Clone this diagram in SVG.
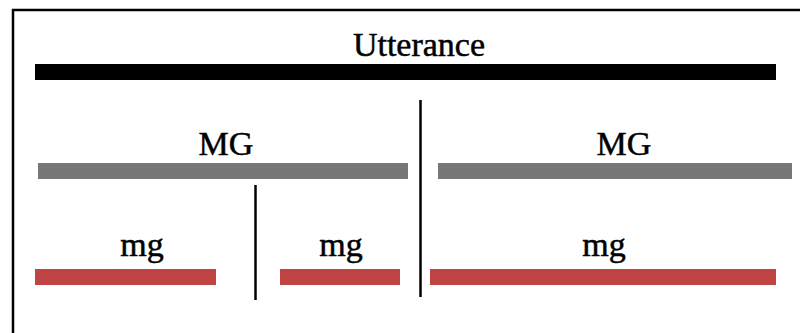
<svg xmlns="http://www.w3.org/2000/svg" width="800" height="333" viewBox="0 0 800 333">
<style>
text{font-family:"Liberation Serif","Times New Roman",serif;font-size:34px;fill:#000;stroke:#000;stroke-width:0.5;text-anchor:middle}
.ut{fill:#000}
.mgbig{fill:#777777}
.mgsmall{fill:#c04444}
.div{stroke:#000;stroke-width:2.5;fill:none}
</style>
<rect x="0" y="0" width="800" height="333" fill="#fff"/>
<rect x="13" y="10" width="800" height="340" fill="none" stroke="#000" stroke-width="2.5"/>
<g id="utterance">
<rect class="ut" x="35" y="64" width="741" height="16"/>
<text x="419" y="56">Utterance</text>
</g>
<g id="MG1">
<rect class="mgbig" x="38" y="163" width="370" height="16"/>
<text x="226" y="155">MG</text>
</g>
<g id="MG2">
<rect class="mgbig" x="438" y="163" width="354" height="16"/>
<text x="624" y="155">MG</text>
</g>
<g id="mg1">
<rect class="mgsmall" x="35" y="269" width="181" height="16"/>
<text x="142" y="256">mg</text>
</g>
<g id="mg2">
<rect class="mgsmall" x="280" y="269" width="120" height="16"/>
<text x="341" y="256">mg</text>
</g>
<g id="mg3">
<rect class="mgsmall" x="430" y="269" width="346" height="16"/>
<text x="604" y="256">mg</text>
</g>
<g id="connectors">
<line class="div" x1="420.5" y1="100" x2="420.5" y2="297"/>
<line class="div" x1="255.5" y1="185" x2="255.5" y2="300"/>
</g>
</svg>
